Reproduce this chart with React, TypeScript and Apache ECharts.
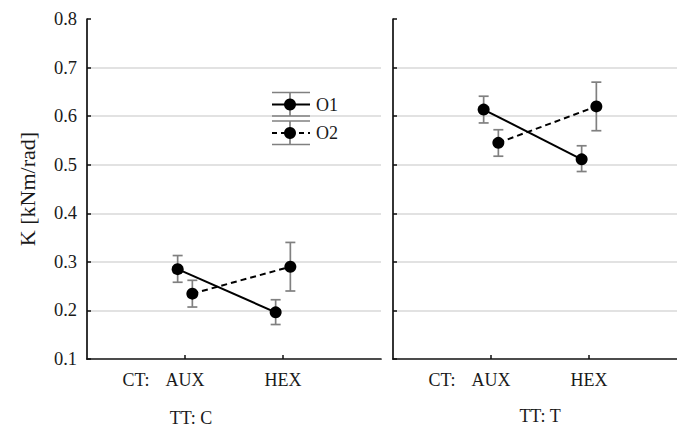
import React, { useEffect, useRef } from "react";
import * as echarts from "echarts";

const categories = ["AUX", "HEX"];
const categoryPositions = [1, 2];
const ctLabel = "CT:";
const yTicks = [0.1, 0.2, 0.3, 0.4, 0.5, 0.6, 0.7, 0.8];

// Panel TT: C
const o1C = [0.285, 0.196];
const o1CLow = [0.258, 0.171];
const o1CHigh = [0.313, 0.222];
const o2C = [0.2345, 0.29];
const o2CLow = [0.207, 0.24];
const o2CHigh = [0.262, 0.34];

// Panel TT: T
const o1T = [0.6135, 0.511];
const o1TLow = [0.586, 0.486];
const o1THigh = [0.641, 0.539];
const o2T = [0.545, 0.62];
const o2TLow = [0.5175, 0.57];
const o2THigh = [0.572, 0.67];

const offsetO1 = -0.075;
const offsetO2 = 0.075;

const FONT = "Liberation Serif";
const TEXT = "#1a1a1a";
const GRID = "#d9d9d9";
const ERR = "#808080";

function pts(vals: number[], off: number) {
  return vals.map((v, i) => [categoryPositions[i] + off, v]);
}
function errs(lo: number[], hi: number[], off: number) {
  return lo.map((l, i) => [categoryPositions[i] + off, l, hi[i]]);
}

const errRender = (params: any, api: any) => {
  const x = api.value(0);
  const lo = api.coord([x, api.value(1)]);
  const hi = api.coord([x, api.value(2)]);
  const w = 5;
  const st = { stroke: ERR, lineWidth: 1.7 };
  return {
    type: "group",
    children: [
      { type: "line", shape: { x1: lo[0], y1: lo[1], x2: hi[0], y2: hi[1] }, style: st },
      { type: "line", shape: { x1: lo[0] - w, y1: lo[1], x2: lo[0] + w, y2: lo[1] }, style: st },
      { type: "line", shape: { x1: hi[0] - w, y1: hi[1], x2: hi[0] + w, y2: hi[1] }, style: st },
    ],
  };
};

export default function App() {
  const ref = useRef<HTMLDivElement>(null);
  useEffect(() => {
    document.body.style.margin = "0";
    const chart = echarts.init(ref.current!, null, { renderer: "svg" });

    const xAxisBase = (gridIndex: number) => ({
      type: "value",
      gridIndex,
      min: 0,
      max: 3,
      axisLine: { show: true, lineStyle: { color: "#111", width: 1.7 } },
      axisTick: {
        show: true,
        inside: true,
        length: 4,
        customValues: categoryPositions,
        lineStyle: { color: "#111", width: 1.5 },
      },
      splitLine: { show: true, showMinLine: false, showMaxLine: false, lineStyle: { color: GRID, width: 1.5 } },
      axisLabel: {
        show: true,
        customValues: [0.5, ...categoryPositions],
        formatter: (v: number) => {
          if (Math.abs(v - 0.5) < 1e-6) return ctLabel;
          const idx = categoryPositions.findIndex((p) => Math.abs(p - v) < 1e-6);
          return idx >= 0 ? categories[idx] : "";
        },
        margin: 12,
        fontFamily: FONT,
        fontSize: 18,
        color: TEXT,
      },
    });

    const yAxisBase = (gridIndex: number, showLabels: boolean) => ({
      type: "value",
      gridIndex,
      min: yTicks[0],
      max: yTicks[yTicks.length - 1],
      interval: 0.1,
      name: showLabels ? "K [kNm/rad]" : "",
      nameLocation: "middle",
      nameGap: 49,
      nameTextStyle: { fontFamily: FONT, fontSize: 22, color: TEXT },
      axisLine: { show: true, lineStyle: { color: "#111", width: 1.7 } },
      axisTick: { show: true, inside: true, length: 4, lineStyle: { color: "#111", width: 1.5 } },
      splitLine: { show: true, showMinLine: false, showMaxLine: false, lineStyle: { color: GRID, width: 1.5 } },
      axisLabel: {
        show: showLabels,
        margin: 10,
        formatter: (v: number) => v.toFixed(1),
        fontFamily: FONT,
        fontSize: 18.5,
        color: TEXT,
      },
    });

    const lineSeries = (name: string, data: number[][], idx: number, dashed: boolean) => ({
      type: "line",
      name,
      xAxisIndex: idx,
      yAxisIndex: idx,
      data,
      symbol: "circle",
      symbolSize: 12,
      itemStyle: { color: "#000" },
      lineStyle: { color: "#000", width: 2, type: dashed ? [6, 4] : "solid" },
      z: 5,
    });
    const errSeries = (data: number[][], idx: number) => ({
      type: "custom",
      xAxisIndex: idx,
      yAxisIndex: idx,
      data,
      renderItem: errRender,
      z: 3,
      silent: true,
    });

    const capStyle = { stroke: ERR, lineWidth: 1.7 };
    const legendItem = (y: number, label: string, dashed: boolean) => [
      { type: "line", shape: { x1: 272, y1: y - 12, x2: 310, y2: y - 12 }, style: capStyle, z: 10 },
      { type: "line", shape: { x1: 272, y1: y + 11.5, x2: 310, y2: y + 11.5 }, style: capStyle, z: 10 },
      { type: "line", shape: { x1: 290, y1: y - 12, x2: 290, y2: y + 11.5 }, style: capStyle, z: 10 },
      {
        type: "line",
        shape: { x1: 272, y1: y, x2: 310, y2: y },
        style: { stroke: "#000", lineWidth: 2, lineDash: dashed ? [5, 4] : null },
        z: 11,
      },
      { type: "circle", shape: { cx: 290, cy: y, r: 6 }, style: { fill: "#000" }, z: 12 },
      {
        type: "text",
        x: 316,
        y: y,
        style: { text: label, fontFamily: FONT, fontSize: 18, fill: TEXT, verticalAlign: "middle" },
        z: 12,
      },
    ];

    chart.setOption({
      animation: false,
      backgroundColor: "#fff",
      grid: [
        { left: 87, top: 19, width: 294, height: 340, outerBoundsMode: "none", containLabel: false },
        { left: 393, top: 19, width: 294, height: 340, outerBoundsMode: "none", containLabel: false },
      ],
      xAxis: [xAxisBase(0), xAxisBase(1)],
      yAxis: [yAxisBase(0, true), yAxisBase(1, false)],
      series: [
        errSeries(errs(o1CLow, o1CHigh, offsetO1), 0),
        errSeries(errs(o2CLow, o2CHigh, offsetO2), 0),
        lineSeries("O1", pts(o1C, offsetO1), 0, false),
        lineSeries("O2", pts(o2C, offsetO2), 0, true),
        errSeries(errs(o1TLow, o1THigh, offsetO1), 1),
        errSeries(errs(o2TLow, o2THigh, offsetO2), 1),
        lineSeries("O1", pts(o1T, offsetO1), 1, false),
        lineSeries("O2", pts(o2T, offsetO2), 1, true),
      ],
      graphic: [
        ...legendItem(104.5, "O1", false),
        ...legendItem(133, "O2", true),
        {
          type: "text",
          x: 191,
          y: 418,
          style: { text: "TT: C", fontFamily: FONT, fontSize: 18, fill: TEXT, align: "center", verticalAlign: "middle" },
        },
        {
          type: "text",
          x: 540,
          y: 416,
          style: { text: "TT: T", fontFamily: FONT, fontSize: 18, fill: TEXT, align: "center", verticalAlign: "middle" },
        },
      ],
    });
    return () => chart.dispose();
  }, []);
  return <div ref={ref} style={{ width: 677, height: 430 }} />;
}
